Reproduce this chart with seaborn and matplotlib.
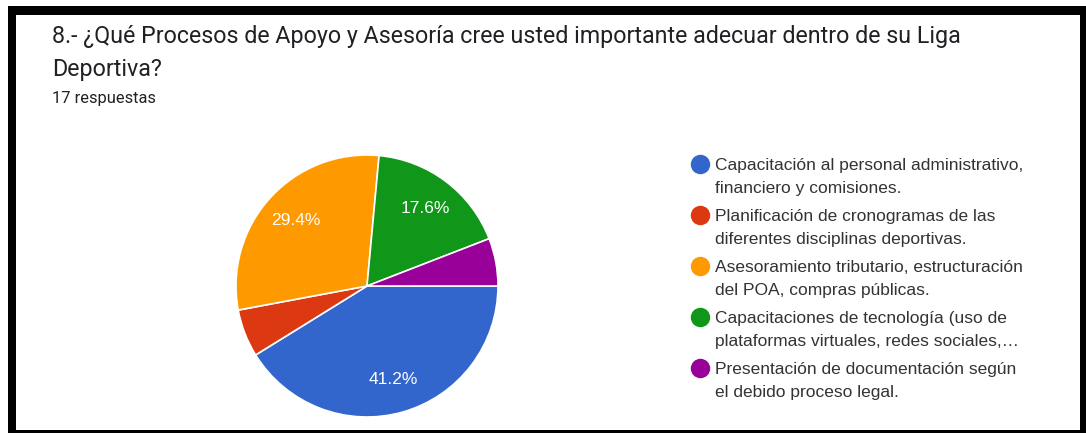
import matplotlib
matplotlib.use("Agg")
import matplotlib.pyplot as plt
from matplotlib.patches import Rectangle
import seaborn as sns

# Survey answers (17 responses)
categories = [
    ["Capacitación al personal administrativo,", "financiero y comisiones."],
    ["Planificación de cronogramas de las", "diferentes disciplinas deportivas."],
    ["Asesoramiento tributario, estructuración", "del POA, compras públicas."],
    ["Capacitaciones de tecnología (uso de", "plataformas virtuales, redes sociales,…"],
    ["Presentación de documentación según", "el debido proceso legal."],
]
counts = [7, 1, 5, 3, 1]
colors = ["#3366cc", "#dc3912", "#ff9900", "#109618", "#990099"]

title_lines = [
    "8.- ¿Qué Procesos de Apoyo y Asesoría cree usted importante adecuar dentro de su Liga",
    "Deportiva?",
]
subtitle = "17 respuestas"

sns.set_theme(style="white")
palette = sns.color_palette(colors)

W, H = 1086, 433
fig = plt.figure(figsize=(W / 100, H / 100), dpi=100)
fig.patch.set_facecolor("white")

# Full-figure overlay in pixel units for frame, titles and legend
bg = fig.add_axes([0, 0, 1, 1])
bg.set_xlim(0, W)
bg.set_ylim(H, 0)
bg.axis("off")
bg.add_patch(Rectangle((8, 6), W - 8, H - 6, facecolor="black", edgecolor="none"))
bg.add_patch(Rectangle((16, 15), 1080 - 16, 430 - 15, facecolor="white", edgecolor="none"))

title_font = ["Roboto", "DejaVu Sans"]
bg.text(52, 43, title_lines[0], fontsize=16.75, family=title_font, color="#202124", va="baseline")
bg.text(52, 76, title_lines[1], fontsize=16.75, family=title_font, color="#202124", va="baseline")
bg.text(52, 103, subtitle, fontsize=11.8, family=title_font, color="#202124", va="baseline")

# Legend: one marker per category, two text lines each
leg_font = ["Liberation Sans", "DejaVu Sans"]
for i, (lines, col) in enumerate(zip(categories, palette)):
    y = 164 + i * 51
    bg.plot(700, y, marker="o", markersize=14, color=col, markeredgewidth=0)
    for j, line in enumerate(lines):
        bg.text(715, y + j * 23, line, fontsize=12.5, family=leg_font,
                color="#333333", va="center_baseline", ha="left")

# Pie
cx, cy, r = 367, 286, 131
ax = fig.add_axes([(cx - r) / W, (H - cy - r) / H, 2 * r / W, 2 * r / H])


def pct_label(p):
    return f"{p:.1f}%" if p >= 10 else ""


wedges, texts, autotexts = ax.pie(
    counts, colors=palette, startangle=0, counterclock=False,
    autopct=pct_label, pctdistance=0.74,
    wedgeprops=dict(edgecolor="white", linewidth=1.2),
    textprops=dict(color="white", fontsize=12.5, family=leg_font),
)
ax.set_xlim(-1, 1)
ax.set_ylim(-1, 1)
ax.set_aspect("equal")
ax.axis("off")

fig.savefig("out.png", dpi=100)
